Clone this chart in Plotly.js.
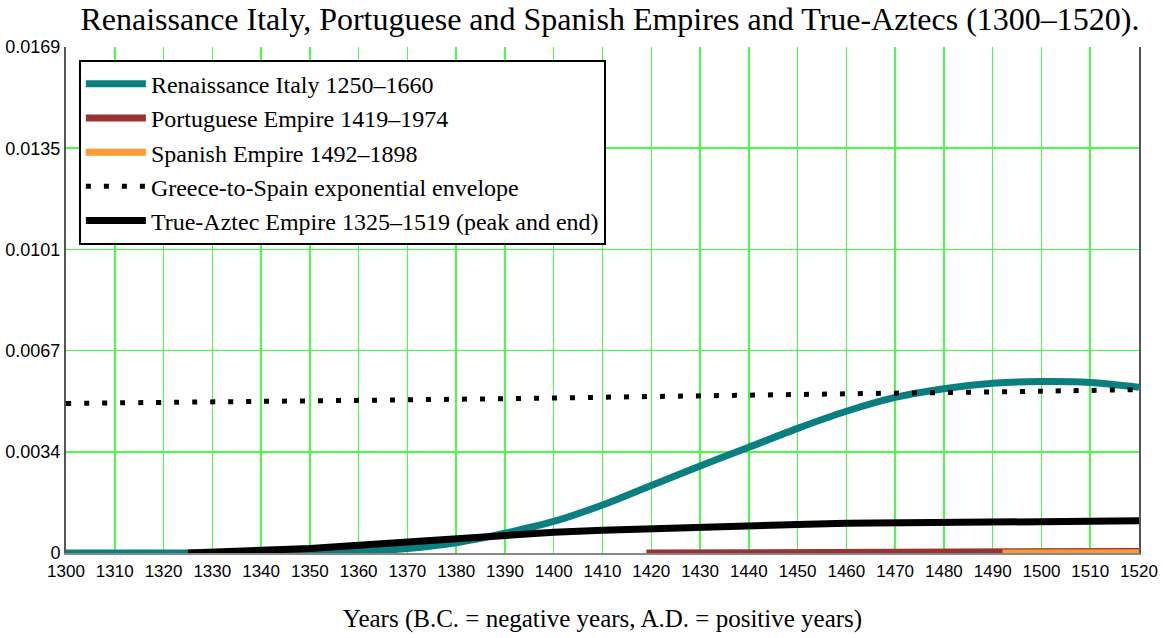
<!DOCTYPE html>
<html>
<head>
<meta charset="utf-8">
<script src="https://cdn.plot.ly/plotly-3.0.1.min.js"></script>
<style>
  html, body { margin: 0; padding: 0; background: #ffffff; }
  #chart { width: 1164px; height: 638px; }
</style>
</head>
<body>
<div id="chart"></div>
<script>
// ---- data ----
var italyYears = [1300, 1310, 1320, 1330, 1340, 1350, 1360, 1370, 1380, 1390, 1400, 1410, 1420, 1430, 1440, 1450, 1460, 1470, 1480, 1490, 1500, 1510, 1520];
var italyValues = [0, 0, 0, 0, 0, 0.00001, 0.00005, 0.00015, 0.00034, 0.00066, 0.00105, 0.0016, 0.00225, 0.0029, 0.00352, 0.00415, 0.00472, 0.00518, 0.00547, 0.00565, 0.00571, 0.00568, 0.00552];

var portugalYears = [1419, 1450, 1480, 1513, 1515, 1520];
var portugalValues = [0, 0, 0, 0, 0.00004, 0.00005];

var spainYears = [1492, 1500, 1510, 1520];
var spainValues = [0, 0, 0, 0.00001];

var envelopeYears = [1300, 1340, 1380, 1420, 1460, 1500, 1520];
var envelopeValues = [0.00498, 0.00505, 0.00512, 0.00521, 0.0053, 0.00539, 0.00544];

var aztecYears = [1325, 1330, 1340, 1350, 1360, 1370, 1380, 1390, 1400, 1410, 1420, 1430, 1440, 1450, 1460, 1470, 1480, 1490, 1500, 1510, 1520];
var aztecValues = [0, 0.00002, 0.00007, 0.00015, 0.00026, 0.00037, 0.00048, 0.0006, 0.00069, 0.00076, 0.00082, 0.00087, 0.0009, 0.00095, 0.00099, 0.001, 0.00101, 0.00105, 0.00106, 0.00107, 0.00107];

var yTickValues = [0, 0.00337, 0.00674, 0.01011, 0.01348, 0.01685];
var yTickLabels = ['0', '0.0034', '0.0067', '0.0101', '0.0135', '0.0169'];

var seriesNames = [
  'Renaissance Italy 1250\u20131660',
  'Portuguese Empire 1419\u20131974',
  'Spanish Empire 1492\u20131898',
  'Greece-to-Spain exponential envelope',
  'True-Aztec Empire 1325\u20131519 (peak and end)'
];

var serif = '"Liberation Serif", "Times New Roman", Times, serif';

var traces = [
  { x: italyYears, y: italyValues, name: seriesNames[0], legendgroup: 'a',
    mode: 'lines', line: { color: '#0a7f80', width: 7, shape: 'spline', smoothing: 0.8 } },
  { x: portugalYears, y: portugalValues, name: seriesNames[1], legendgroup: 'b',
    mode: 'lines', line: { color: '#993333', width: 7 } },
  { x: spainYears, y: spainValues, name: seriesNames[2], legendgroup: 'c',
    mode: 'lines', line: { color: '#ff9933', width: 7 } },
  { x: envelopeYears, y: envelopeValues, name: seriesNames[3], legendgroup: 'd',
    mode: 'lines', line: { color: '#000000', width: 5, dash: '5px,13px', shape: 'spline' } },
  { x: aztecYears, y: aztecValues, name: seriesNames[4], legendgroup: 'e',
    mode: 'lines', line: { color: '#000000', width: 7 } }
];

var layout = {
  width: 1164,
  height: 638,
  paper_bgcolor: '#ffffff',
  plot_bgcolor: '#ffffff',
  margin: { l: 66, r: 25, t: 47, b: 85 },
  showlegend: true,
  title: {
    text: 'Renaissance Italy, Portuguese and Spanish Empires and True-Aztecs (1300\u20131520).',
    font: { family: serif, size: 32, color: '#000000' },
    xref: 'container', x: 0.524, xanchor: 'center',
    yref: 'container', y: 0.97, yanchor: 'middle'
  },
  xaxis: {
    range: [1300, 1520],
    tick0: 1300, dtick: 10,
    showgrid: true, gridcolor: '#44ff44', gridwidth: 1.5,
    zeroline: false,
    showline: true, linecolor: '#888888', linewidth: 2,
    ticks: '',
    tickfont: { family: '"Liberation Sans", Arial, sans-serif', size: 17, color: '#000000' },
    ticklabelstandoff: 2,
    title: {
      text: 'Years (B.C. = negative years, A.D. = positive years)',
      font: { family: serif, size: 25, color: '#000000' },
      standoff: 29
    },
    fixedrange: true
  },
  yaxis: {
    range: [0, 0.01685],
    tickvals: yTickValues,
    ticktext: yTickLabels,
    showgrid: true, gridcolor: '#44ff44', gridwidth: 1.5,
    zeroline: false,
    showline: true, linecolor: '#555555', linewidth: 2, mirror: true,
    ticks: '',
    tickfont: { family: '"Liberation Sans", Arial, sans-serif', size: 18, color: '#000000' },
    fixedrange: true
  },
  legend: {
    x: 0.012, xanchor: 'left',
    y: 0.975, yanchor: 'top',
    bgcolor: '#ffffff',
    bordercolor: '#000000',
    borderwidth: 2,
    font: { family: serif, size: 24, color: '#000000' },
    tracegroupgap: 0,
    itemwidth: 60,
    traceorder: 'normal'
  }
};

Plotly.newPlot('chart', traces, layout, { displayModeBar: false, staticPlot: true });
</script>
</body>
</html>
